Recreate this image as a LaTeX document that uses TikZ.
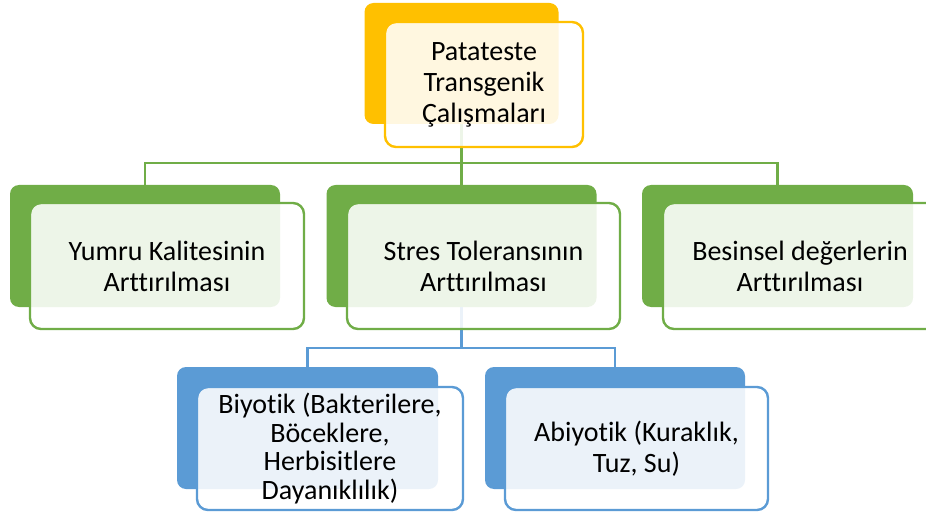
\documentclass[tikz,border=0pt]{standalone}
\usepackage{fontspec}
\setmainfont[Ligatures=NoCommon]{Carlito}
\definecolor{cyel}{HTML}{FFC000}
\definecolor{cgrn}{HTML}{70AD47}
\definecolor{cblu}{HTML}{5B9BD5}
\tikzset{
  backbox/.style={rectangle, rounded corners=9pt, fill=#1, draw=none, inner sep=0pt},
  frontbox/.style={rectangle, rounded corners=11pt, draw=#1, line width=2.4pt, fill=white, fill opacity=0.88, text opacity=1, inner sep=0pt, align=center, font=\fontsize{28}{31}\selectfont},
  conn/.style={draw=#1, line width=2.4pt}
}
\begin{document}
\begin{tikzpicture}[x=1pt,y=-1pt]
\useasboundingbox (0,0) rectangle (926,513);
% back boxes
\node[backbox=cyel, minimum width=194pt, minimum height=121pt] (tb) at (461.5,63.5) {};
\node[backbox=cgrn, minimum width=270pt, minimum height=122pt] (lb) at (145,246) {};
\node[backbox=cgrn, minimum width=270pt, minimum height=122pt] (mb) at (461.5,246) {};
\node[backbox=cgrn, minimum width=271pt, minimum height=122pt] (rb) at (777.5,246) {};
\node[backbox=cblu, minimum width=261pt, minimum height=122pt] (blb) at (307.5,428) {};
\node[backbox=cblu, minimum width=260pt, minimum height=122pt] (brb) at (615,428) {};
% connectors
\coordinate (j1) at (461.5,163);
\coordinate (j2) at (461.5,348);
\draw[conn=cgrn] (tb.south) -- (mb.north);
\draw[conn=cgrn] (j1) -| (lb.north);
\draw[conn=cgrn] (j1) -| (rb.north);
\draw[conn=cblu] (mb.south) -- (j2);
\draw[conn=cblu] (j2) -| (blb.north);
\draw[conn=cblu] (j2) -| (brb.north);
% front boxes
\node[frontbox=cyel, minimum width=198pt, minimum height=125pt] (tf) at (484,84.5) {Patateste\\Transgenik\\Çalışmaları};
\node[frontbox=cgrn, minimum width=274pt, minimum height=126pt] (lf) at (167,266) {Yumru Kalitesinin\\Arttırılması};
\node[frontbox=cgrn, minimum width=273pt, minimum height=126pt] (mf) at (483.5,266) {Stres Toleransının\\Arttırılması};
\node[frontbox=cgrn, minimum width=274pt, minimum height=126pt] (rf) at (800,266) {Besinsel değerlerin\\Arttırılması};
\node[frontbox=cblu, minimum width=266pt, minimum height=123pt, font=\fontsize{28}{28.7}\selectfont] (blf) at (330,448.5) {Biyotik (Bakterilere,\\Böceklere,\\Herbisitlere\\Dayanıklılık)};
\node[frontbox=cblu, minimum width=263pt, minimum height=123pt] (brf) at (636.5,448.5) {Abiyotik (Kuraklık,\\Tuz, Su)};
\end{tikzpicture}
\end{document}
